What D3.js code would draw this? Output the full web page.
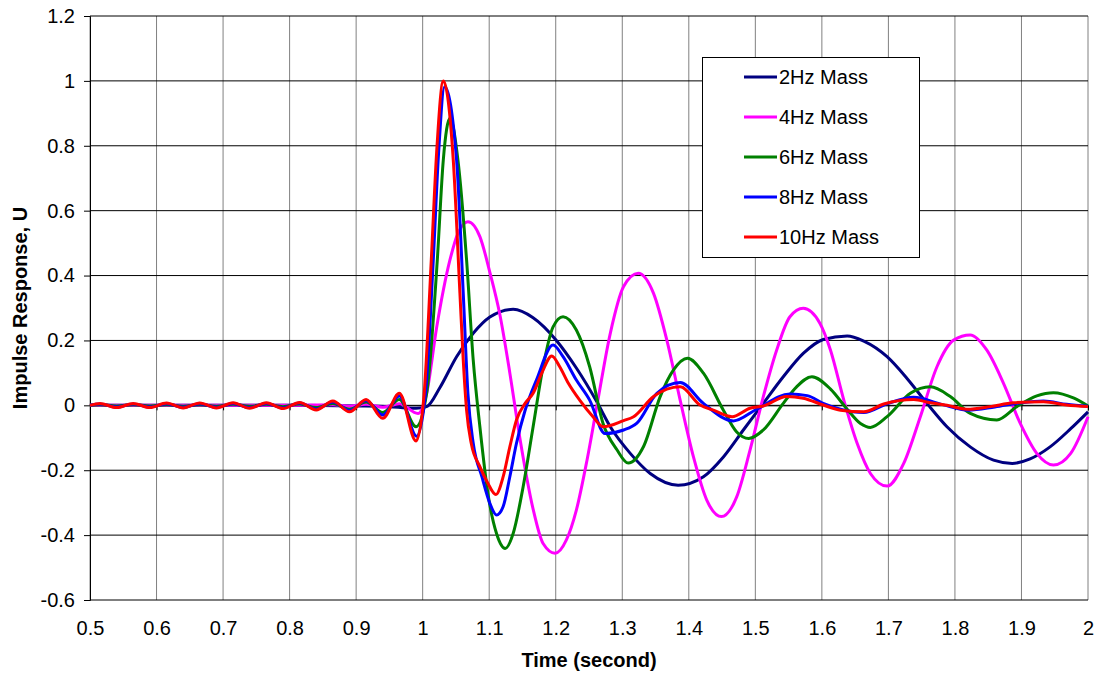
<!DOCTYPE html>
<html>
<head>
<meta charset="utf-8">
<script src="https://cdn.jsdelivr.net/npm/d3@7"></script>
<style>
    body { margin: 0; background: #fff; }
    #chart-area { width: 1098px; height: 676px; }
    text { font-family: "Liberation Sans", Arial, sans-serif; fill: #000; }
    .axis-title { font-weight: bold; font-size: 20px; }
    .tick text { font-size: 20px; }
</style>
</head>
<body>
<div id="chart-area"></div>
<script>

// [time (s), impulse response]
var mass2Hz = [
    [0.5, 0], [0.6, 0], [0.7, 0], [0.8, 0], [0.9, -0.002], [0.95, -0.004], [0.975, -0.008], [0.99, -0.009],
    [1.006, -0.004], [1.026, 0.055], [1.051, 0.15], [1.076, 0.222], [1.101, 0.272], [1.136, 0.296],
    [1.166, 0.27], [1.201, 0.2], [1.231, 0.115], [1.262, 0.01], [1.282, -0.066], [1.312, -0.148],
    [1.342, -0.21], [1.384, -0.246], [1.422, -0.22], [1.452, -0.159], [1.482, -0.076], [1.512, 0.006],
    [1.542, 0.088], [1.572, 0.16], [1.602, 0.203], [1.638, 0.214], [1.663, 0.198], [1.698, 0.15],
    [1.728, 0.083], [1.758, 0.006], [1.788, -0.066], [1.823, -0.128], [1.858, -0.169], [1.886, -0.179],
    [1.913, -0.165], [1.943, -0.128], [1.974, -0.072], [2.0, -0.02]
];

var mass4Hz = [
    [0.5, 0], [0.8, 0], [0.865, 0.002], [0.89, -0.003], [0.915, 0.003], [0.94, -0.006], [0.965, 0.005],
    [0.993, -0.025], [1.006, 0.037], [1.021, 0.24], [1.041, 0.448], [1.053, 0.53], [1.068, 0.566],
    [1.086, 0.52], [1.101, 0.41], [1.116, 0.28], [1.131, 0.1], [1.146, -0.1], [1.166, -0.32],
    [1.181, -0.426], [1.199, -0.456], [1.216, -0.415], [1.231, -0.323], [1.247, -0.169], [1.262, 0],
    [1.282, 0.222], [1.302, 0.366], [1.324, 0.407], [1.347, 0.345], [1.367, 0.201], [1.387, 0.016],
    [1.407, -0.159], [1.427, -0.292], [1.449, -0.343], [1.472, -0.282], [1.492, -0.138], [1.512, 0.027],
    [1.532, 0.17], [1.552, 0.273], [1.572, 0.299], [1.597, 0.253], [1.613, 0.17], [1.633, 0.016],
    [1.653, -0.117], [1.673, -0.21], [1.698, -0.249], [1.723, -0.179], [1.748, -0.035], [1.773, 0.119],
    [1.798, 0.201], [1.823, 0.217], [1.848, 0.17], [1.873, 0.068], [1.898, -0.055], [1.923, -0.148],
    [1.948, -0.184], [1.974, -0.148], [2.0, -0.035]
];

var mass6Hz = [
    [0.5, 0], [0.515, 0.002], [0.54, -0.002], [0.565, 0.002], [0.59, -0.002], [0.615, 0.002], [0.64, -0.003],
    [0.665, 0.002], [0.69, -0.003], [0.715, 0.003], [0.74, -0.003], [0.765, 0.003], [0.79, -0.004],
    [0.815, 0.004], [0.84, -0.007], [0.865, 0.006], [0.89, -0.012], [0.915, 0.01], [0.94, -0.022],
    [0.965, 0.018], [0.99, -0.066], [1.006, 0.037], [1.022, 0.448], [1.031, 0.756], [1.041, 0.885],
    [1.053, 0.756], [1.066, 0.448], [1.076, 0.139], [1.086, -0.066], [1.098, -0.271], [1.111, -0.395],
    [1.124, -0.441], [1.136, -0.395], [1.151, -0.251], [1.166, -0.066], [1.181, 0.119], [1.196, 0.242],
    [1.211, 0.273], [1.231, 0.232], [1.251, 0.119], [1.271, -0.055], [1.292, -0.137], [1.309, -0.178],
    [1.332, -0.127], [1.357, 0.027], [1.377, 0.109], [1.398, 0.145], [1.422, 0.099], [1.452, -0.015],
    [1.472, -0.082], [1.49, -0.102], [1.512, -0.076], [1.542, 0.006], [1.562, 0.057], [1.585, 0.088],
    [1.613, 0.05], [1.638, -0.012], [1.658, -0.056], [1.673, -0.068], [1.698, -0.035], [1.733, 0.037],
    [1.763, 0.057], [1.793, 0.027], [1.823, -0.025], [1.863, -0.045], [1.893, -0.004], [1.923, 0.029],
    [1.948, 0.039], [1.979, 0.022], [2.0, -0.002]
];

var mass8Hz = [
    [0.5, 0], [0.515, 0.004], [0.54, -0.005], [0.565, 0.004], [0.59, -0.005], [0.615, 0.005], [0.64, -0.006],
    [0.665, 0.005], [0.69, -0.006], [0.715, 0.006], [0.74, -0.007], [0.765, 0.006], [0.79, -0.008],
    [0.815, 0.007], [0.84, -0.011], [0.865, 0.01], [0.89, -0.016], [0.915, 0.015], [0.94, -0.03],
    [0.965, 0.029], [0.991, -0.095], [1.004, 0.03], [1.016, 0.45], [1.024, 0.78], [1.033, 0.982],
    [1.051, 0.756], [1.061, 0.345], [1.068, 0.037], [1.076, -0.117], [1.089, -0.22], [1.101, -0.302],
    [1.111, -0.338], [1.121, -0.312], [1.131, -0.22], [1.141, -0.117], [1.154, -0.015], [1.171, 0.078],
    [1.196, 0.186], [1.211, 0.15], [1.231, 0.078], [1.251, 0.016], [1.274, -0.087], [1.302, -0.076],
    [1.322, -0.055], [1.352, 0.037], [1.387, 0.07], [1.422, 0.006], [1.467, -0.048], [1.502, -0.012],
    [1.552, 0.035], [1.578, 0.03], [1.602, 0.006], [1.628, -0.012], [1.663, -0.022], [1.698, 0.005],
    [1.738, 0.025], [1.78, 0.003], [1.82, -0.015], [1.86, -0.005], [1.9, 0.008], [1.933, 0.013],
    [1.968, 0.003], [2.0, -0.003]
];

var mass10Hz = [
    [0.5, 0], [0.515, 0.006], [0.54, -0.007], [0.565, 0.006], [0.59, -0.007], [0.615, 0.007], [0.64, -0.008],
    [0.665, 0.007], [0.69, -0.008], [0.715, 0.008], [0.74, -0.009], [0.765, 0.008], [0.79, -0.01],
    [0.815, 0.009], [0.84, -0.014], [0.865, 0.013], [0.89, -0.02], [0.915, 0.018], [0.94, -0.04],
    [0.965, 0.037], [0.99, -0.11], [1.002, 0.03], [1.013, 0.45], [1.021, 0.78], [1.031, 1.0],
    [1.046, 0.756], [1.056, 0.345], [1.061, 0.139], [1.066, -0.015], [1.073, -0.117], [1.086, -0.189],
    [1.098, -0.24], [1.11, -0.275], [1.121, -0.22], [1.131, -0.128], [1.141, -0.045], [1.154, 0.006],
    [1.166, 0.037], [1.179, 0.099], [1.194, 0.152], [1.206, 0.119], [1.219, 0.068], [1.236, 0.016],
    [1.256, -0.035], [1.271, -0.066], [1.302, -0.047], [1.317, -0.035], [1.347, 0.027], [1.387, 0.057],
    [1.417, 0.001], [1.437, -0.015], [1.465, -0.035], [1.492, -0.009], [1.512, -0.002], [1.547, 0.027],
    [1.572, 0.022], [1.602, 0.001], [1.628, -0.015], [1.663, -0.02], [1.693, 0.004], [1.738, 0.018],
    [1.763, 0.008], [1.788, 0], [1.818, -0.012], [1.853, -0.004], [1.888, 0.008], [1.933, 0.011],
    [1.968, 0.001], [2.0, -0.004]
];

var seriesNames = ["2Hz Mass", "4Hz Mass", "6Hz Mass", "8Hz Mass", "10Hz Mass"];
var xTicks = [0.5, 0.6, 0.7, 0.8, 0.9, 1, 1.1, 1.2, 1.3, 1.4, 1.5, 1.6, 1.7, 1.8, 1.9, 2];
var yTicks = [-0.6, -0.4, -0.2, 0, 0.2, 0.4, 0.6, 0.8, 1, 1.2];


LineChart = function(_parentElement, _series) {
    this.parentElement = _parentElement;
    this.series = _series;

    this.initVis();
};

LineChart.prototype.initVis = function() {
    var vis = this;

    vis.margin = { top: 16, right: 10, bottom: 76, left: 90 };

    vis.width = 1098 - vis.margin.left - vis.margin.right;
    vis.height = 676 - vis.margin.top - vis.margin.bottom;

    vis.svg = d3.select('#' + vis.parentElement)
        .append('svg')
        .attr('width', vis.width + vis.margin.left + vis.margin.right)
        .attr('height', vis.height + vis.margin.top + vis.margin.bottom)
        .append('g')
        .attr('transform', "translate(" + vis.margin.left + "," + vis.margin.top + ")");

    vis.xScale = d3.scaleLinear()
        .domain([0.5, 2])
        .range([0, vis.width]);

    vis.yScale = d3.scaleLinear()
        .domain([-0.6, 1.2])
        .range([vis.height, 0]);

    vis.colors = ["#000080", "#ff00ff", "#008000", "#0000ff", "#ff0000"];

    // grid
    vis.svg.append("g").selectAll("line")
        .data(xTicks)
        .enter().append("line")
        .attr("x1", function(d) { return vis.xScale(d); })
        .attr("x2", function(d) { return vis.xScale(d); })
        .attr("y1", 0)
        .attr("y2", vis.height)
        .attr("stroke", "#808080")
        .attr("stroke-width", 1);

    vis.svg.append("g").selectAll("line")
        .data(yTicks)
        .enter().append("line")
        .attr("x1", 0)
        .attr("x2", vis.width)
        .attr("y1", function(d) { return vis.yScale(d); })
        .attr("y2", function(d) { return vis.yScale(d); })
        .attr("stroke", "#000")
        .attr("stroke-width", 1);

    vis.yAxis = d3.axisLeft()
        .scale(vis.yScale)
        .tickValues(yTicks)
        .tickSize(6)
        .tickPadding(9)
        .tickFormat(function(d) { return String(d); });

    vis.svg.append("g")
        .attr("class", "y-axis axis")
        .call(vis.yAxis);

    // x axis crosses at zero, labels sit under the plot
    vis.svg.append("g")
        .attr("class", "x-axis axis")
        .attr("transform", "translate(0," + vis.yScale(0) + ")")
        .call(d3.axisBottom(vis.xScale).tickValues(xTicks).tickSize(5).tickFormat(""));

    vis.svg.append("g")
        .attr("class", "x-labels axis")
        .attr("transform", "translate(0," + vis.height + ")")
        .call(d3.axisBottom(vis.xScale).tickValues(xTicks).tickSize(0).tickPadding(21)
            .tickFormat(function(d) { return String(d); }));

    vis.svg.selectAll(".axis .domain").attr("stroke", "#000");
    vis.svg.select(".x-labels .domain").remove();
    vis.svg.selectAll(".tick text").attr("fill", "#000");

    vis.svg.append('text')
        .attr('class', 'axis-title')
        .attr('x', vis.width / 2)
        .attr('y', 651)
        .attr('text-anchor', 'middle')
        .text("Time (second)");

    vis.svg.append('text')
        .attr('class', 'axis-title')
        .attr('transform', "translate(-63," + (vis.height / 2) + ") rotate(-90)")
        .attr('text-anchor', 'middle')
        .text("Impulse Response, U");

    vis.line = d3.line()
        .x(function(d) { return vis.xScale(d[0]); })
        .y(function(d) { return vis.yScale(d[1]); })
        .curve(d3.curveMonotoneX);

    vis.updateVis();
};

LineChart.prototype.updateVis = function() {
    var vis = this;

    vis.svg.selectAll('.series')
        .data(vis.series)
        .enter()
        .append('path')
        .attr('class', 'series')
        .attr('d', function(d) { return vis.line(d.values); })
        .attr('fill', 'none')
        .attr('stroke', function(d, i) { return vis.colors[i]; })
        .attr('stroke-width', 3)
        .attr('stroke-linejoin', 'round');

    var legend = vis.svg.append('g')
        .attr('class', 'legend')
        .attr('transform', "translate(612,41)");

    legend.append('rect')
        .attr('x', 0.5)
        .attr('y', 0.5)
        .attr('width', 217)
        .attr('height', 200)
        .attr('fill', '#fff')
        .attr('stroke', '#000');

    var rows = legend.selectAll('.legend-row')
        .data(vis.series)
        .enter()
        .append('g')
        .attr('class', 'legend-row')
        .attr('transform', function(d, i) { return "translate(0," + (20 + i * 40) + ")"; });

    rows.append('line')
        .attr('x1', 42)
        .attr('x2', 75)
        .attr('stroke', function(d, i) { return vis.colors[i]; })
        .attr('stroke-width', 3);

    rows.append('text')
        .attr('x', 77)
        .attr('dy', '0.35em')
        .style('font-size', '20px')
        .text(function(d) { return d.name; });
};

var chartSeries = [mass2Hz, mass4Hz, mass6Hz, mass8Hz, mass10Hz].map(function(values, i) {
    return { name: seriesNames[i], values: values };
});

var impulseChart = new LineChart("chart-area", chartSeries);

</script>
</body>
</html>
